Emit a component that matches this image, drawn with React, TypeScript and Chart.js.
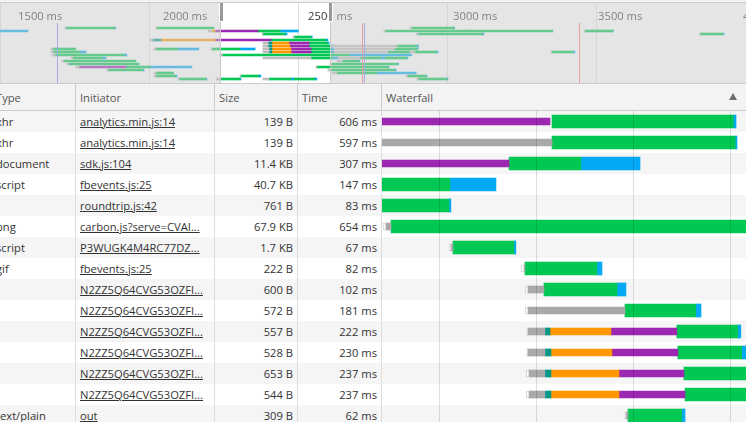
import { useEffect, useRef } from 'react';
import Chart from 'chart.js/auto';

// request table
const types = ['xhr', 'xhr', 'document', 'script', '', 'png', 'script', 'gif', '', '', '', '', '', '', 'text/plain'];
const initiators = [
  'analytics.min.js:14', 'analytics.min.js:14', 'sdk.js:104', 'fbevents.js:25', 'roundtrip.js:42',
  'carbon.js?serve=CVAI...', 'P3WUGK4M4RC77DZ...', 'fbevents.js:25', 'N2ZZ5Q64CVG53OZFI...', 'N2ZZ5Q64CVG53OZFI...',
  'N2ZZ5Q64CVG53OZFI...', 'N2ZZ5Q64CVG53OZFI...', 'N2ZZ5Q64CVG53OZFI...', 'N2ZZ5Q64CVG53OZFI...', 'out',
];
const sizes = ['139 B', '139 B', '11.4 KB', '40.7 KB', '761 B', '67.9 KB', '1.7 KB', '222 B', '600 B', '572 B', '557 B', '528 B', '653 B', '544 B', '309 B'];
const times = ['606 ms', '597 ms', '307 ms', '147 ms', '83 ms', '654 ms', '67 ms', '82 ms', '102 ms', '181 ms', '222 ms', '230 ms', '237 ms', '237 ms', '62 ms'];
const rowLabels = types.map((_, i) => String(i + 1));

// waterfall phases per row, [start ms, end ms]
type Span = [number, number] | null;
const queueing: Span[] = [null, null, null, null, null, [2042, 2045], [2110, 2112], [2184.3, 2187.4], [2188.7, 2191.5], [2188.7, 2191.5], [2190, 2191], [2190, 2191], [2189.8, 2192.5], [2189.8, 2192.5], [2290.5, 2292.5]];
const stalled: Span[] = [null, [1810, 2216.3], null, null, null, [2045, 2050.3], [2112, 2114.2], [2187.4, 2188.4], [2191.5, 2208], [2191.5, 2291.5], [2191, 2209], [2191, 2209], [2192.5, 2209], [2192.5, 2209], [2292.5, 2294.6]];
const dnsLookup: Span[] = [null, null, null, null, null, null, null, null, null, null, [2209, 2214.2], [2209, 2215.2], [2209, 2215.2], [2209, 2215.2], null];
const connecting: Span[] = [null, null, null, null, null, null, null, null, null, null, [2214.2, 2277], [2215.2, 2278], [2215.2, 2285.3], [2215.2, 2285.3], null];
const ssl: Span[] = [[1800, 2214.2], null, [2000, 2172], null, null, null, null, null, null, null, [2277, 2345], [2278, 2346], [2285.3, 2352.3], [2285.3, 2353.4], null];
const waiting: Span[] = [[2216.3, 2403.2], [2216.3, 2405.2], [2172, 2246], [2011.5, 2111], [2029, 2110], [2050.3, 2696], [2114.2, 2177], [2188.4, 2262.6], [2208, 2283.3], [2291.5, 2364.4], [2345, 2407.7], [2346, 2411.8], [2352.3, 2420], [2353.4, 2420], [2294.6, 2350]];
const download: Span[] = [[2403.2, 2406], [2405.2, 2407], [2246, 2307], [2111, 2158.5], [2110, 2112], null, [2177, 2179], [2262.6, 2267.8], [2283.3, 2292.5], [2364.4, 2369.9], [2407.7, 2411], [2411.8, 2420], [2420, 2427], [2420, 2427], [2350, 2353.4]];

// overview strip, [row, start ms, end ms]
type Seg = [number, number, number];
const ovStalled: Seg[] = [
  [0, 1502, 1506], [0, 1815, 1819], [0, 2692, 2697], [1, 1996, 2009], [1, 2602, 2607], [1, 3292, 3296],
  [2, 2182, 2185], [2, 2714, 2720], [2, 3690, 3693], [3, 2289, 2293], [4, 1796, 1805], [5, 2185, 2203],
  [6, 2185, 2203], [6, 2420, 2647], [7, 1454, 1461], [7, 1809, 1816], [7, 2006, 2009], [7, 2185, 2206], [7, 2430, 2640],
  [8, 1454, 1462], [8, 2185, 2206], [8, 2430, 2616], [8, 2692, 2709], [8, 3178, 3181], [9, 1458, 1468], [9, 2037, 2045],
  [10, 1523, 1529], [10, 2185, 2351], [10, 2444, 2520], [11, 1492, 1497], [11, 2440, 2459], [12, 1509, 1515], [12, 2416, 2422],
  [13, 1540, 1551], [13, 2368, 2371], [14, 1647, 1651], [14, 2409, 2420], [15, 1809, 1816], [15, 2423, 2440],
  [16, 1809, 1816], [16, 2106, 2109], [16, 2678, 2683], [17, 1892, 1897], [17, 2023, 2040], [17, 2185, 2206], [17, 2716, 2721],
];
const ovDns: Seg[] = [[4, 1805, 1833], [5, 2203, 2216], [6, 2203, 2216], [7, 2206, 2216], [8, 2206, 2216]];
const ovConnecting: Seg[] = [[1, 2009, 2020], [4, 1833, 2020], [5, 2216, 2275], [6, 2216, 2278], [7, 2216, 2282], [8, 2216, 2282]];
const ovSsl: Seg[] = [[1, 2020, 2168], [4, 2020, 2213], [5, 2275, 2344], [6, 2278, 2344], [7, 2282, 2351], [8, 2282, 2351], [13, 1551, 1713]];
const ovWaiting: Seg[] = [
  [0, 1506, 1674], [0, 1819, 2016], [0, 2697, 2843], [1, 2168, 2244], [1, 2607, 2884], [1, 2885, 3183], [1, 3296, 3391],
  [2, 2185, 2261], [2, 2720, 2941], [2, 3693, 3771], [3, 2293, 2351], [4, 2213, 2402], [5, 2344, 2409], [6, 2344, 2420], [6, 2647, 2716],
  [7, 1461, 1540], [7, 1816, 1892], [7, 2009, 2106], [7, 2351, 2420], [7, 2640, 2716],
  [8, 1462, 1554], [8, 2351, 2420], [8, 2616, 2692], [8, 2709, 2784], [8, 3181, 3255],
  [9, 1468, 1706], [9, 2045, 2485], [10, 1529, 1630], [10, 2351, 2426], [10, 2520, 2592], [10, 2606, 2681],
  [11, 1497, 1747], [11, 2459, 2517], [12, 1515, 1758], [12, 2422, 2650], [13, 1713, 1796], [13, 2371, 2617],
  [14, 1651, 1771], [14, 2420, 2640], [15, 1816, 1877], [15, 2440, 2577], [16, 1816, 1885], [16, 2109, 2171], [16, 2683, 2747],
  [17, 1897, 1989], [17, 2040, 2106], [17, 2206, 2282], [17, 2292, 2364], [17, 2721, 2820],
];
const ovDownload: Seg[] = [
  [0, 1674, 1677], [0, 2843, 2846], [1, 1200, 1375], [1, 2244, 2307], [1, 3183, 3185], [1, 3391, 3394],
  [2, 2261, 2268], [2, 2941, 2947], [2, 3771, 3775], [3, 2351, 2355], [4, 2402, 2409], [5, 2409, 2413], [6, 2420, 2431], [6, 2716, 2722],
  [7, 1892, 1964], [7, 2106, 2158], [7, 2420, 2430], [7, 2716, 2720], [8, 1554, 1575], [8, 2420, 2430], [8, 2784, 2789], [8, 3255, 3261],
  [9, 1706, 1716], [9, 2485, 2698], [10, 1630, 1644], [10, 2426, 2444], [10, 2592, 2606], [10, 2681, 2685],
  [11, 2517, 2520], [12, 2650, 2653], [13, 1796, 1940], [13, 2617, 2620], [14, 1771, 1775], [14, 2640, 2644],
  [15, 2577, 2713], [16, 1885, 1889], [16, 2171, 2178], [16, 2747, 2751],
  [17, 1989, 1992], [17, 2106, 2109], [17, 2282, 2292], [17, 2364, 2371], [17, 2820, 2823],
];
const eventLines = [
  { at: 1476, color: '#8686ff' },
  { at: 2528, color: '#ff7474' },
  { at: 2532, color: '#8686ff' },
  { at: 3276, color: '#ff7474' },
];
const overviewTicks = [1500, 2000, 2500, 3000, 3500, 4000];

const GREEN = '#00c853';
const BLUE = '#03a9f4';
const PURPLE = '#9c27b0';
const ORANGE = '#ff9800';
const TEAL = '#009688';
const GREY = '#a9a9a9';
const FONT = '"Open Sans", sans-serif';

const toBars = (segs: Seg[]) => segs.map(([row, start, end]) => ({ x: [start, end], y: row }));

const eventLinePlugin = {
  id: 'eventLines',
  afterDatasetsDraw(chart: any) {
    const { ctx, scales } = chart;
    eventLines.forEach((line) => {
      const px = Math.round(scales.x.getPixelForValue(line.at)) + 0.5;
      ctx.save();
      ctx.strokeStyle = line.color;
      ctx.lineWidth = 1;
      ctx.beginPath();
      ctx.moveTo(px, 20);
      ctx.lineTo(px, 80);
      ctx.stroke();
      ctx.restore();
    });
  },
};

const abs = (left: number, top: number, width: number, height: number): any => ({
  position: 'absolute', left, top, width, height,
});

const cell: any = {
  position: 'absolute', whiteSpace: 'nowrap', fontFamily: FONT, fontSize: 11.2, lineHeight: '21px', color: '#333',
};

export default function App() {
  const overviewRef = useRef<HTMLCanvasElement>(null);
  const waterfallRef = useRef<HTMLCanvasElement>(null);

  useEffect(() => {
    document.body.style.margin = '0';
    const ovBar = (data: any[], color: string) => ({
      data, backgroundColor: color, barThickness: 2, grouped: false, borderWidth: 0,
    });
    const overview = new Chart(overviewRef.current!, {
      type: 'bar',
      data: {
        datasets: [
          ovBar(toBars(ovStalled), '#bdbdbd'),
          ovBar(toBars(ovDns), TEAL),
          ovBar(toBars(ovConnecting), ORANGE),
          ovBar(toBars(ovSsl), PURPLE),
          ovBar(toBars(ovWaiting), GREEN),
          ovBar(toBars(ovDownload), BLUE),
        ],
      },
      options: {
        indexAxis: 'y',
        animation: false,
        responsive: false,
        devicePixelRatio: 1,
        events: [],
        layout: { padding: 0 },
        plugins: { legend: { display: false }, tooltip: { enabled: false } },
        scales: {
          x: {
            type: 'linear',
            min: 1278.3,
            max: 3850.7,
            border: { display: false },
            grid: { color: 'rgba(0,0,0,0.13)', drawTicks: false },
            ticks: { display: false, stepSize: 500, includeBounds: false },
          },
          y: { type: 'linear', reverse: true, offset: false, min: -8.333, max: 18.333, display: false },
        },
      },
      plugins: [eventLinePlugin],
    } as any);

    const wfBar = (data: Span[], color: string, thickness: number, extra: any = {}) => ({
      data, backgroundColor: color, barThickness: thickness, grouped: false, borderWidth: 0, ...extra,
    });
    const waterfall = new Chart(waterfallRef.current!, {
      type: 'bar',
      data: {
        labels: rowLabels,
        datasets: [
          wfBar(queueing, '#ffffff', 7, { borderWidth: 1, borderColor: '#d4d4d4', borderSkipped: false }),
          wfBar(stalled, GREY, 7),
          wfBar(dnsLookup, TEAL, 7),
          wfBar(connecting, ORANGE, 7),
          wfBar(ssl, PURPLE, 7),
          wfBar(waiting, GREEN, 13),
          wfBar(download, BLUE, 13),
        ],
      },
      options: {
        indexAxis: 'y',
        animation: false,
        responsive: false,
        devicePixelRatio: 1,
        events: [],
        layout: { padding: 0 },
        plugins: { legend: { display: false }, tooltip: { enabled: false } },
        scales: {
          x: {
            type: 'linear',
            min: 2041,
            max: 2416.3,
            border: { display: false },
            grid: { color: 'rgba(0,0,0,0.13)', drawTicks: false, z: 1 },
            ticks: { display: false, stepSize: 100, includeBounds: false },
          },
          y: { type: 'category', display: false },
        },
      },
    } as any);

    return () => {
      overview.destroy();
      waterfall.destroy();
    };
  }, []);

  return (
    <div style={{ position: 'fixed', left: 0, top: 0, width: 746, height: 422, overflow: 'hidden', background: '#fff' }}>
      {/* overview strip */}
      <div style={{ ...abs(0, 0, 746, 2), background: '#f3f3f3' }} />
      <div style={{ ...abs(0, 2, 746, 1), background: '#ccc' }} />
      <canvas ref={overviewRef} width={746} height={80} style={{ ...abs(0, 3, 746, 80) }} />
      {overviewTicks.map((ms) => (
        <div
          key={ms}
          style={{
            ...cell,
            right: 746 - (209.3 + (ms - 2000) * 0.29) + 2,
            top: 5,
            color: '#333',
          }}
        >
          {ms} ms
        </div>
      ))}
      <div style={{ ...abs(0, 3, 220, 80), background: 'rgba(204,204,204,0.5)' }} />
      <div style={{ ...abs(331, 3, 415, 80), background: 'rgba(204,204,204,0.5)' }} />
      <div style={{ ...abs(220, 3, 1, 80), background: '#c8c8c8' }} />
      <div style={{ ...abs(330, 3, 1, 80), background: '#c8c8c8' }} />
      <div style={{ ...abs(219, 3, 5, 19), background: '#999', border: '0 solid #fff', borderWidth: '0 1px 1px 1px', boxSizing: 'border-box' }} />
      <div style={{ ...abs(328, 3, 5, 19), background: '#999', border: '0 solid #fff', borderWidth: '0 1px 1px 1px', boxSizing: 'border-box' }} />
      <div style={{ ...abs(0, 83, 746, 1), background: '#ccc' }} />

      {/* header */}
      <div style={{ ...abs(0, 84, 746, 26), background: '#f3f3f3' }} />
      <div style={{ ...abs(0, 110, 746, 1), background: '#ccc' }} />
      <div style={{ ...cell, left: -4, top: 87, color: '#555' }}>Type</div>
      <div style={{ ...cell, left: 80, top: 87, color: '#555' }}>Initiator</div>
      <div style={{ ...cell, left: 219, top: 87, color: '#555' }}>Size</div>
      <div style={{ ...cell, left: 302, top: 87, color: '#555' }}>Time</div>
      <div style={{ ...cell, left: 386, top: 87, color: '#555' }}>Waterfall</div>
      <div style={{ position: 'absolute', left: 729, top: 93, width: 0, height: 0, borderLeft: '4px solid transparent', borderRight: '4px solid transparent', borderBottom: '7px solid #6e6e6e' }} />

      {/* rows */}
      {types.map((type, i) => {
        const top = 111 + i * 21;
        return (
          <div key={i}>
            <div style={{ ...abs(0, top, 746, 21), background: i % 2 === 0 ? '#f5f5f5' : '#fff' }} />
            <div style={{ ...cell, left: -4, top }}>{type}</div>
            <div style={{ ...cell, left: 80, top, textDecoration: 'underline' }}>{initiators[i]}</div>
            <div style={{ ...cell, right: 746 - 293, top }}>{sizes[i]}</div>
            <div style={{ ...cell, right: 746 - 377, top }}>{times[i]}</div>
          </div>
        );
      })}
      {[75, 214, 297, 381].map((x) => (
        <div key={x}>
          <div style={{ ...abs(x, 84, 1, 27), background: '#ccc' }} />
          <div style={{ ...abs(x, 111, 1, 311), background: '#ddd' }} />
        </div>
      ))}
      <canvas ref={waterfallRef} width={364} height={315} style={{ ...abs(382, 111, 364, 315) }} />
    </div>
  );
}
